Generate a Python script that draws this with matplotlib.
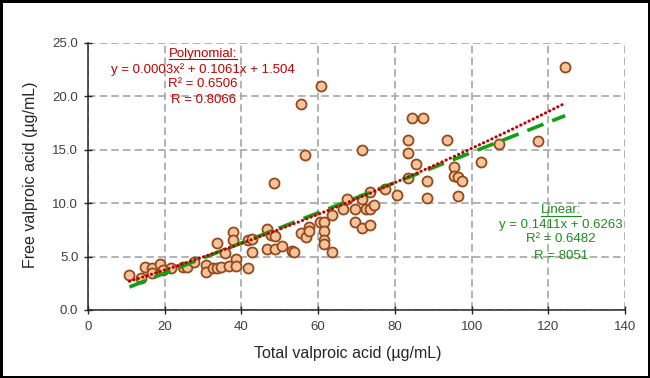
import matplotlib
matplotlib.use("Agg")
import matplotlib.pyplot as plt
import numpy as np
from matplotlib.lines import Line2D

plt.rcParams['font.family'] = ['Liberation Sans', 'DejaVu Sans']

# total vs free valproic acid (ug/mL)
total_vpa = [10.8, 13.8, 14.9, 16.8, 16.8, 18.8, 19.6, 21.6, 24.8, 25.7,
             27.7, 30.7, 30.7, 32.7, 33.6, 34.7, 33.6, 35.6, 36.8, 37.7,
             37.7, 38.7, 38.7, 41.6, 41.6, 42.7, 42.7, 48.5, 46.6, 47.6,
             48.7, 46.6, 48.7, 50.7, 53.3, 53.6, 55.5, 56.7, 57.6, 57.6,
             56.6, 60.5, 61.6, 61.6, 61.6, 61.6, 63.6, 63.6, 67.4, 66.6,
             69.6, 69.6, 71.5, 72.5, 73.4, 73.5, 73.5, 74.5, 71.5, 71.5,
             77.4, 60.7, 55.6, 84.5, 87.4, 83.5, 93.5, 83.5, 85.5, 80.5,
             83.5, 88.5, 88.5, 95.4, 95.4, 96.5, 97.4, 96.4, 102.5, 107.2,
             117.3, 124.4]
free_vpa = [3.25, 3.0, 4.0, 3.95, 3.5, 4.27, 3.7, 3.9, 4.0, 4.05,
            4.45, 4.2, 3.6, 3.9, 3.95, 4.0, 6.3, 5.3, 4.15, 7.33,
            6.55, 4.75, 4.15, 3.97, 6.55, 6.62, 5.43, 11.9, 7.6, 6.97,
            6.88, 5.68, 5.68, 5.95, 5.55, 5.4, 7.2, 6.86, 7.74, 7.35,
            14.5, 8.2, 8.2, 7.42, 6.55, 6.15, 5.38, 8.9, 10.37, 9.45,
            9.45, 8.2, 7.66, 9.4, 9.45, 11.07, 7.93, 9.8, 14.95, 10.38,
            11.3, 20.95, 19.3, 18.0, 18.0, 15.9, 15.9, 14.7, 13.7, 10.8,
            12.3, 12.1, 10.5, 13.35, 12.5, 12.4, 12.04, 10.7, 13.85, 15.5,
            15.85, 22.7]

# trendline coefficients as printed on the chart
poly_coef = [0.0003, 0.1061, 1.504]
lin_coef = [0.1411, 0.6263]

poly_text = ["y = 0.0003x\u00b2 + 0.1061x + 1.504", "R\u00b2 = 0.6506", "R = 0.8066"]
lin_text = ["y = 0.1411x + 0.6263", "R\u00b2 = 0.6482", "R = 8051"]

red = '#C00000'
green = '#1E8C1E'

fig = plt.figure(figsize=(6.5, 3.78), dpi=100)
fig.patch.set_edgecolor('black')
fig.patch.set_linewidth(2.5)
ax = fig.add_axes([0.1354, 0.1799, 0.8262, 0.7071])

ax.scatter(total_vpa, free_vpa, s=52, facecolor='#F7C39C', edgecolor='#94491A',
           linewidth=1.3, zorder=3)

xs = np.linspace(min(total_vpa), max(total_vpa), 200)
ax.plot(xs, np.polyval(lin_coef, xs), color='#12A012', lw=2.6,
        linestyle=(0, (4.8, 2.6)), zorder=4)
ax.plot(xs, np.polyval(poly_coef, xs), color=red, lw=2.2,
        linestyle=(0, (0.1, 1.4)), dash_capstyle='round', zorder=5)

ax.set_xlim(0, 140)
ax.set_ylim(0, 25)
ax.set_xticks(range(0, 141, 20))
ax.set_yticks(np.arange(0, 25.1, 5))
ax.set_yticklabels(["{:.1f}".format(v) for v in np.arange(0, 25.1, 5)])
ax.grid(True, color='#A6A6A6', linestyle=(0, (4.5, 2.5)), linewidth=1.2, zorder=1)
ax.set_axisbelow(True)

for side in ['top', 'right']:
    ax.spines[side].set_visible(False)
for side in ['left', 'bottom']:
    ax.spines[side].set_color('#262626')
    ax.spines[side].set_linewidth(1.1)

ax.tick_params(direction='inout', length=6, width=1, color='#262626',
               labelcolor='#404040', labelsize=9.5)
ax.tick_params(axis='x', pad=5)
ax.tick_params(axis='y', pad=4)
for lab in ax.get_xticklabels() + ax.get_yticklabels():
    lab.set_family(['Liberation Sans Narrow', 'Liberation Sans'])

ax.set_xlabel("Total valproic acid (\u00b5g/mL)", fontsize=11.5, color='#262626')
ax.set_ylabel("Free valproic acid (\u00b5g/mL)", fontsize=11.5, color='#262626')
ax.xaxis.set_label_coords(0.484, -0.161)
ax.yaxis.set_label_coords(-0.108, 0.505)
ax.xaxis.label.set_va('center')
ax.yaxis.label.set_va('center')

# polynomial trend label
t_poly = ax.text(30.0, 23.95, "Polynomial:", color=red, fontsize=9.5,
                 ha='center', va='center', zorder=6)
for txt, yy in zip(poly_text, [22.45, 21.1, 19.6]):
    ax.text(30.0, yy, txt, color=red, fontsize=9.5, ha='center', va='center', zorder=6)

# linear trend label
t_lin = ax.text(123.3, 9.35, "Linear:", color=green, fontsize=9.5,
                ha='center', va='center', zorder=6)
for txt, yy in zip(lin_text, [7.95, 6.6, 5.05]):
    ax.text(123.3, yy, txt, color=green, fontsize=9.5, ha='center', va='center', zorder=6)

# underline the two headings
fig.canvas.draw()
inv = fig.transFigure.inverted()
for t, c in [(t_poly, red), (t_lin, green)]:
    bb = t.get_window_extent()
    yline = (bb.y0 + bb.y1) / 2 - 5.5
    (x0, y0), (x1, y1) = inv.transform([(bb.x0, yline), (bb.x1, yline)])
    fig.add_artist(Line2D([x0, x1], [y0, y1], color=c, lw=0.8))

fig.savefig("out.png", dpi=100)
